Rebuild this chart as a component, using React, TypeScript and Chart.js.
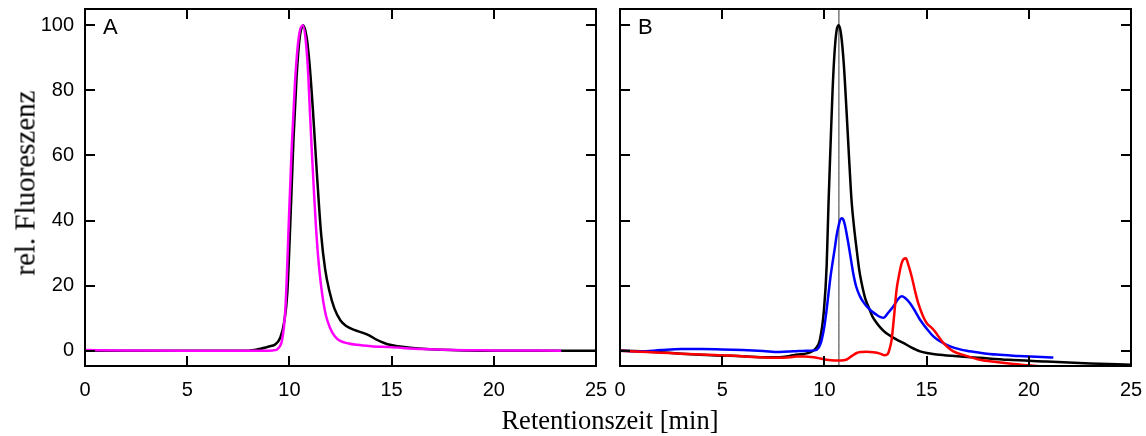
import React, { useEffect, useRef } from "react";
import { Chart, registerables } from "chart.js";

Chart.register(...registerables);

// ---- axes ----
const xTicks = [0, 5, 10, 15, 20, 25];
const yTicks = [0, 20, 40, 60, 80, 100];
const xMin = 0;
const xMax = 25;
const yMin = -4.7;
const yMax = 105;

// ---- panel A ----
const aBlackT = [0, 2, 4, 6, 7.9, 8.5, 9.0, 9.3, 9.55, 9.75, 9.9, 10.05, 10.2, 10.35, 10.5, 10.68, 10.85, 11.0, 11.15, 11.35, 11.55, 11.75, 11.95, 12.2, 12.5, 12.8, 13.2, 13.6, 13.9, 14.2, 14.5, 14.8, 15.3, 15.8, 16.5, 17.4, 18.5, 20, 22, 25];
const aBlackV = [0, 0, 0, 0, 0, 0.5, 1.3, 1.9, 4, 9, 18, 40, 65, 84, 96, 100, 96, 87, 74, 54, 36, 25, 18.5, 13, 9.3, 7.5, 6.3, 5.5, 4.7, 3.6, 2.7, 2, 1.4, 1.0, 0.6, 0.3, 0.1, 0, 0, 0];

const aMagentaT = [0, 2, 5, 8, 9.2, 9.4, 9.55, 9.65, 9.78, 9.87, 9.95, 10.11, 10.27, 10.45, 10.65, 10.82, 10.92, 11.0, 11.1, 11.2, 11.3, 11.41, 11.53, 11.66, 11.8, 11.99, 12.2, 12.48, 12.9, 13.3, 14, 14.9, 16.5, 18, 20, 23.3];
const aMagentaV = [0.2, 0.1, 0, 0, 0.1, 0.4, 1.5, 3.5, 10.5, 22, 36, 62, 82, 96, 100, 94, 85, 74, 61, 49, 38, 28.5, 21, 15, 10.5, 7, 4.6, 3.0, 2.2, 1.8, 1.4, 1.1, 0.5, 0.2, 0.1, 0];

// ---- panel B ----
const bBlackT = [0, 1, 2, 3, 4.5, 6, 7.2, 7.8, 8.3, 8.7, 9.0, 9.3, 9.55, 9.78, 9.98, 10.11, 10.2, 10.3, 10.4, 10.5, 10.6, 10.71, 10.82, 10.95, 11.08, 11.2, 11.33, 11.45, 11.58, 11.7, 11.82, 12.0, 12.15, 12.35, 12.56, 12.75, 13.0, 13.37, 13.6, 13.86, 14.2, 14.68, 15.1, 15.49, 16.5, 17.61, 19, 20.87, 23, 25];
const bBlackV = [0.1, -0.2, -0.5, -0.9, -1.4, -1.7, -2.0, -2.0, -1.6, -1.2, -1.0, -0.5, 0.5, 3.4, 12.6, 26, 45, 63, 80, 92, 98.5, 100, 97, 88, 74, 60, 46, 38, 31, 25, 20.8, 16, 13.6, 10.5, 8.5, 7, 5.5, 4.0, 3.2, 2.4, 1.2, -0.2, -0.8, -1.2, -1.7, -2.2, -2.8, -3.3, -3.9, -4.3];

const bBlueT = [0, 1, 2, 3, 4, 5, 6, 7, 7.8, 8.5, 9.1, 9.5, 9.62, 9.75, 9.87, 10.0, 10.11, 10.2, 10.3, 10.41, 10.52, 10.6, 10.68, 10.76, 10.85, 10.93, 11.0, 11.08, 11.17, 11.3, 11.41, 11.55, 11.74, 11.9, 12.07, 12.3, 12.56, 12.75, 12.9, 13.1, 13.37, 13.6, 13.78, 13.95, 14.19, 14.45, 14.68, 15.0, 15.33, 15.65, 15.98, 16.4, 16.96, 17.6, 18.42, 19.5, 20.87, 21.2];
const bBlueV = [0, -0.2, 0.2, 0.5, 0.5, 0.4, 0.2, -0.1, -0.4, -0.2, 0, 0.1, 0.3, 1.2, 3.4, 7.5, 12.6, 17.5, 22.8, 27.5, 32, 35.5, 38, 40, 40.7, 40.2, 38.7, 36.2, 33, 28, 23.8, 19.8, 16.7, 15, 13.6, 12.2, 11, 10.3, 10.1, 11.5, 13.6, 15.8, 16.7, 16.2, 14.6, 12, 9.5, 6.8, 4.4, 2.9, 1.8, 0.8, 0, -0.6, -1.2, -1.6, -2.0, -2.1];

const bRedT = [0, 1, 2, 2.94, 4, 5.38, 6.5, 7.83, 8.3, 8.64, 9.0, 9.46, 9.8, 10.11, 10.5, 10.8, 11.09, 11.35, 11.58, 11.8, 12.07, 12.4, 12.72, 12.95, 13.1, 13.2, 13.29, 13.4, 13.53, 13.66, 13.78, 13.88, 13.99, 14.1, 14.27, 14.43, 14.59, 14.8, 15.0, 15.25, 15.41, 15.6, 15.82, 16.05, 16.31, 16.9, 17.61, 18.4, 19.24, 20.0, 20.55];
const bRedV = [0, -0.3, -0.6, -0.9, -1.2, -1.5, -1.9, -2.2, -2.0, -1.8, -1.8, -2.0, -2.4, -2.8, -3.0, -3.0, -2.7, -1.6, -0.7, -0.4, -0.3, -0.5, -0.9, -1.4, -1.0, 0.8, 3.4, 10, 18.7, 23.5, 26.9, 28.2, 28.4, 26.5, 22.8, 18.5, 14.6, 11, 8.5, 7, 5.9, 4.2, 2.4, 1.0, -0.2, -1.5, -2.8, -3.5, -4.1, -4.5, -4.8];

const markerTime = 10.71;

const SANS = '"Liberation Sans", Arial, sans-serif';
const SERIF = '"Liberation Serif", "Times New Roman", serif';

function pts(t: number[], v: number[]) {
  return t.map((x, i) => ({ x, y: v[i] }));
}

function line(label: string, data: { x: number; y: number }[], color: string, width = 2.5) {
  return {
    label,
    data,
    borderColor: color,
    backgroundColor: color,
    borderWidth: width,
    pointRadius: 0,
    fill: false,
    cubicInterpolationMode: "monotone" as const,
  };
}

const framePlugin = {
  id: "frame",
  afterDatasetsDraw(chart: any, _args: any, opts: any) {
    const { ctx, chartArea } = chart;
    const { left, right, top, bottom } = chartArea;
    const xs = chart.scales.x;
    const ys = chart.scales.y;
    ctx.save();
    ctx.strokeStyle = "#000";
    ctx.lineWidth = 2;
    ctx.beginPath();
    xTicks.forEach((v) => {
      const px = Math.round(xs.getPixelForValue(v));
      ctx.moveTo(px, bottom);
      ctx.lineTo(px, bottom - 10);
      ctx.moveTo(px, top);
      ctx.lineTo(px, top + 10);
    });
    yTicks.forEach((v) => {
      const py = Math.round(ys.getPixelForValue(v));
      ctx.moveTo(left, py);
      ctx.lineTo(left + 10, py);
      ctx.moveTo(right, py);
      ctx.lineTo(right - 10, py);
    });
    ctx.stroke();
    ctx.strokeRect(left, top, right - left, bottom - top);
    ctx.fillStyle = "#000";
    ctx.font = `22px ${SANS}`;
    ctx.textBaseline = "alphabetic";
    ctx.textAlign = "left";
    ctx.fillText(opts.label, left + 18, 34);
    ctx.restore();
  },
};

function makeConfig(datasets: any[], showY: boolean, padding: any, label: string): any {
  return {
    type: "line",
    data: { datasets },
    plugins: [framePlugin],
    options: {
      animation: false,
      responsive: false,
      events: [],
      layout: { padding },
      plugins: {
        legend: { display: false },
        tooltip: { enabled: false },
        frame: { label },
      },
      scales: {
        x: {
          type: "linear",
          min: xMin,
          max: xMax,
          afterBuildTicks: (s: any) => {
            s.ticks = xTicks.map((v) => ({ value: v }));
          },
          afterFit: (s: any) => {
            s.height = 70;
            s.paddingLeft = 0;
            s.paddingRight = 0;
          },
          grid: { display: false, drawTicks: false },
          border: { display: false },
          ticks: {
            color: "#000",
            font: { family: SANS, size: 20 },
            padding: 12,
            maxRotation: 0,
            autoSkip: false,
          },
        },
        y: {
          type: "linear",
          display: showY,
          min: yMin,
          max: yMax,
          afterBuildTicks: (s: any) => {
            s.ticks = yTicks.map((v) => ({ value: v }));
          },
          afterFit: (s: any) => {
            s.width = showY ? 85 : 0;
            s.paddingTop = 0;
            s.paddingBottom = 0;
          },
          grid: { display: false, drawTicks: false },
          border: { display: false },
          ticks: {
            color: "#000",
            font: { family: SANS, size: 20 },
            padding: 11,
            autoSkip: false,
          },
        },
      },
    },
  };
}

export default function App() {
  const refA = useRef<HTMLCanvasElement | null>(null);
  const refB = useRef<HTMLCanvasElement | null>(null);

  useEffect(() => {
    const chartA = new Chart(
      refA.current as HTMLCanvasElement,
      makeConfig(
        [
          line("A magenta", pts(aMagentaT, aMagentaV), "#ff00ff"),
          line("A schwarz", pts(aBlackT, aBlackV), "#000000"),
        ],
        true,
        { left: 0, right: 16, top: 9, bottom: 0 },
        "A"
      )
    );
    const chartB = new Chart(
      refB.current as HTMLCanvasElement,
      makeConfig(
        [
          line("B rot", pts(bRedT, bRedV), "#ff0000"),
          line("B blau", pts(bBlueT, bBlueV), "#0000ff"),
          line("B schwarz", pts(bBlackT, bBlackV), "#000000"),
          line("Marker", [{ x: markerTime, y: yMin }, { x: markerTime, y: yMax }], "#333333", 1),
        ],
        false,
        { left: 20, right: 15, top: 9, bottom: 0 },
        "B"
      )
    );
    return () => {
      chartA.destroy();
      chartB.destroy();
    };
  }, []);

  return (
    <div style={{ position: "fixed", left: 0, top: 0, width: 1146, height: 436, background: "#fff", overflow: "hidden" }}>
      <canvas ref={refA} width={612} height={436} style={{ position: "absolute", left: 0, top: 0, width: 612, height: 436 }} />
      <canvas ref={refB} width={546} height={436} style={{ position: "absolute", left: 600, top: 0, width: 546, height: 436 }} />
      <div
        style={{
          position: "absolute",
          left: 25,
          top: 183,
          transform: "translate(-50%, -50%) rotate(-90deg)",
          fontFamily: SERIF,
          fontSize: 29,
          whiteSpace: "nowrap",
          color: "#000",
          lineHeight: 1,
        }}
      >
        rel. Fluoreszenz
      </div>
      <div
        style={{
          position: "absolute",
          left: 610,
          top: 420,
          transform: "translate(-50%, -50%)",
          fontFamily: SERIF,
          fontSize: 26.5,
          whiteSpace: "nowrap",
          color: "#000",
          lineHeight: 1,
        }}
      >
        Retentionszeit [min]
      </div>
    </div>
  );
}
